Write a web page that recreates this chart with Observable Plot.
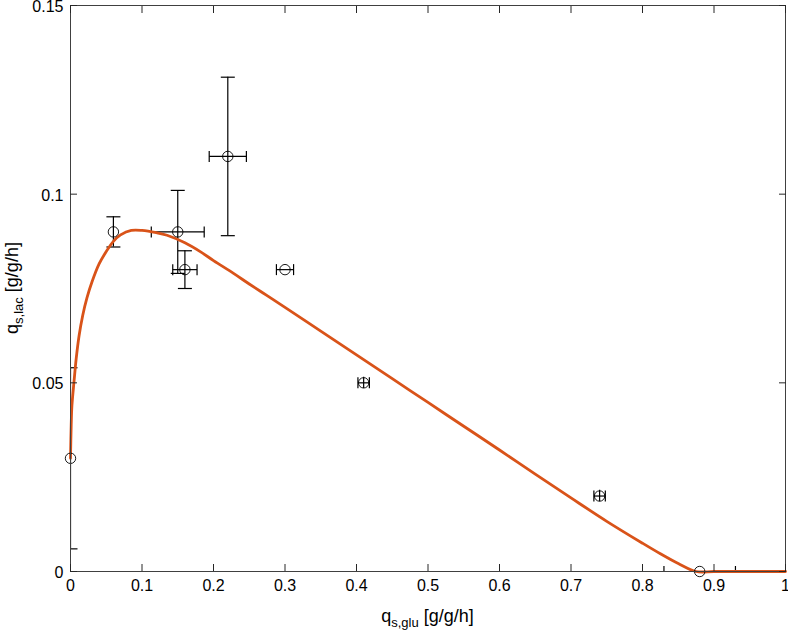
<!DOCTYPE html>
<html><head><meta charset="utf-8">
<script src="https://cdn.jsdelivr.net/npm/d3@7"></script>
<script src="https://cdn.jsdelivr.net/npm/@observablehq/plot@0.6"></script>
<style>body{margin:0;background:#fff}#chart svg{display:block}</style>
</head><body><div id="chart"></div>
<script>
// Tick values and labels
const xTicks = [0, 0.1, 0.2, 0.3, 0.4, 0.5, 0.6, 0.7, 0.8, 0.9, 1];
const xTickLabels = ["0", "0.1", "0.2", "0.3", "0.4", "0.5", "0.6", "0.7", "0.8", "0.9", "1"];
const yTicks = [0, 0.05, 0.1, 0.15];
const yTickLabels = ["0", "0.05", "0.1", "0.15"];

// Measured data (q_s,glu vs q_s,lac) with error bars
const qGlu    = [0,     0.06,  0.15,  0.16,  0.22,  0.30,  0.41,   0.74,   0.88];
const qLac    = [0.03,  0.09,  0.09,  0.08,  0.11,  0.08,  0.05,   0.02,   0];
const qGluErr = [0,     0,     0.037, 0.017, 0.026, 0.012, 0.008,  0.008,  0.05];
const qLacErr = [0.024, 0.004, 0.011, 0.005, 0.021, 0,     0.0015, 0.0015, 0];

// Model curve
const modelGlu = [0, 0.001, 0.002, 0.005, 0.008, 0.012, 0.017, 0.023, 0.03, 0.04, 0.05, 0.06, 0.07, 0.085, 0.1, 0.12, 0.135, 0.16, 0.182, 0.2, 0.228, 0.25, 0.275, 0.3, 0.35, 0.4, 0.45, 0.5, 0.55, 0.6, 0.65, 0.7, 0.75, 0.8, 0.825, 0.85, 0.875, 0.9, 0.95, 1];
const modelLac = [0.03, 0.039, 0.044, 0.0505, 0.0565, 0.0625, 0.0678, 0.0725, 0.0767, 0.0815, 0.0848, 0.0875, 0.0892, 0.0904, 0.0904, 0.0898, 0.0891, 0.0871, 0.0847, 0.0824, 0.0790, 0.0762, 0.0731, 0.0700, 0.0637, 0.0574, 0.0511, 0.0448, 0.0385, 0.0322, 0.0258, 0.0195, 0.0133, 0.0075, 0.0047, 0.0021, 0, 0, 0, 0];

const pts = qGlu.map((x, i) => ({x, y: qLac[i], ex: qGluErr[i], ey: qLacErr[i]}));
const model = modelGlu.map((x, i) => ({x, y: modelLac[i]}));
const xErrPts = pts.filter(d => d.ex > 0);
const yErrPts = pts.filter(d => d.ey > 0);
const yCapPts = pts.filter(d => d.ey > 0.002);

const hLine = {draw(ctx, size) { const w = Math.sqrt(size / Math.PI); ctx.moveTo(-w, 0); ctx.lineTo(w, 0); }};
const vLine = {draw(ctx, size) { const w = Math.sqrt(size / Math.PI); ctx.moveTo(0, -w); ctx.lineTo(0, w); }};

const axisColor = "#262626";
const font = "'Liberation Sans', Arial, Helvetica, sans-serif";

const plot = Plot.plot({
  width: 788, height: 632,
  marginLeft: 70, marginRight: 3, marginTop: 5, marginBottom: 61,
  x: {domain: [0, 1]},
  y: {domain: [0, 0.15]},
  style: {fontFamily: font, fontSize: "16px", color: axisColor, background: "white"},
  marks: [
    // error bars
    Plot.link(xErrPts, {x1: d => d.x - d.ex, x2: d => d.x + d.ex, y1: "y", y2: "y", stroke: "black", strokeWidth: 1.2, clip: true}),
    Plot.ruleX(yErrPts, {x: "x", y1: d => d.y - d.ey, y2: d => d.y + d.ey, stroke: "black", strokeWidth: 1.2, clip: true}),
    Plot.dot(xErrPts, {x: d => d.x - d.ex, y: "y", symbol: vLine, r: 5.5, fill: "none", stroke: "black", strokeWidth: 1.2, clip: true}),
    Plot.dot(xErrPts, {x: d => d.x + d.ex, y: "y", symbol: vLine, r: 5.5, fill: "none", stroke: "black", strokeWidth: 1.2, clip: true}),
    Plot.dot(yCapPts, {x: "x", y: d => d.y - d.ey, symbol: hLine, r: 7, fill: "none", stroke: "black", strokeWidth: 1.2, clip: true}),
    Plot.dot(yCapPts, {x: "x", y: d => d.y + d.ey, symbol: hLine, r: 7, fill: "none", stroke: "black", strokeWidth: 1.2, clip: true}),
    // model curve
    Plot.line(model, {x: "x", y: "y", curve: "catmull-rom", stroke: "#D95319", strokeWidth: 2.8}),
    // markers
    Plot.dot(pts, {x: "x", y: "y", r: 5.2, fill: "none", stroke: "black", strokeWidth: 0.9}),
    // box and inward ticks
    Plot.frame({stroke: "#404040", strokeWidth: 1}),
    Plot.axisX(xTicks, {anchor: "bottom", tickSize: -7, text: null, label: null}),
    Plot.axisX(xTicks, {anchor: "top", tickSize: -7, text: null, label: null}),
    Plot.axisY(yTicks, {anchor: "left", tickSize: -7, text: null, label: null}),
    Plot.axisY(yTicks, {anchor: "right", tickSize: -7, text: null, label: null}),
    // tick labels
    Plot.axisX(xTicks, {anchor: "bottom", tickSize: 0, tickPadding: 8, label: null, fill: "black",
      tickFormat: d => xTickLabels[xTicks.indexOf(d)]}),
    Plot.axisY(yTicks, {anchor: "left", tickSize: 0, tickPadding: 7, dy: 1.5, label: null, fill: "black",
      tickFormat: d => yTickLabels[yTicks.indexOf(d)]})
  ]
});

const svg = d3.select(plot);
const sx = plot.scale("x"), sy = plot.scale("y");
const cx = (sx.apply(0) + sx.apply(1)) / 2;
const cy = (sy.apply(0) + sy.apply(0.15)) / 2;

const xl = svg.append("text")
  .attr("x", cx).attr("y", 622)
  .attr("text-anchor", "middle").attr("font-family", font).attr("font-size", 18).attr("fill", "black");
xl.append("tspan").text("q");
xl.append("tspan").attr("font-size", 13).attr("dy", 5).text("s,glu");
xl.append("tspan").attr("dy", -5).text(" [g/g/h]");

const yl = svg.append("text")
  .attr("transform", `translate(18,${cy}) rotate(-90)`)
  .attr("text-anchor", "middle").attr("font-family", font).attr("font-size", 18).attr("fill", "black");
yl.append("tspan").text("q");
yl.append("tspan").attr("font-size", 13).attr("dy", 5).text("s,lac");
yl.append("tspan").attr("dy", -5).text(" [g/g/h]");

document.getElementById("chart").appendChild(plot);
</script>
</body></html>
